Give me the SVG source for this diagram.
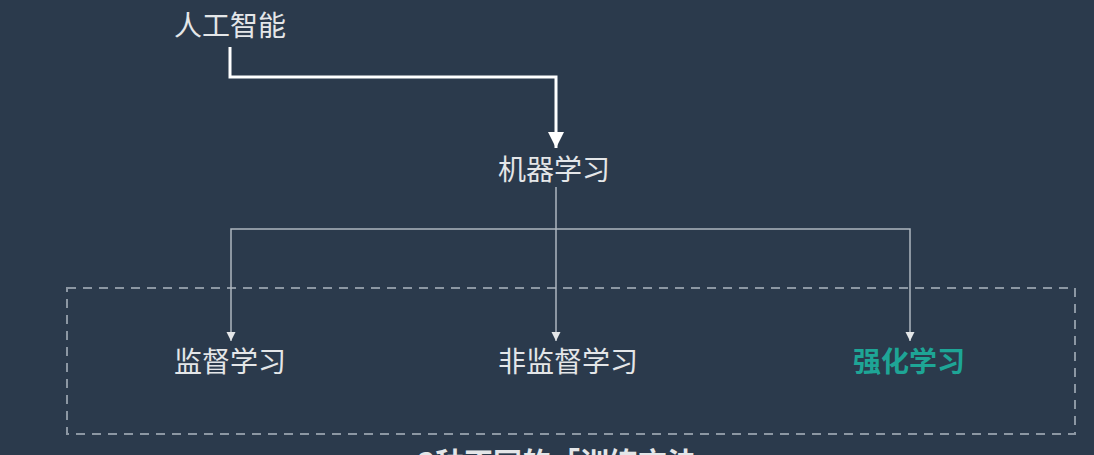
<svg xmlns="http://www.w3.org/2000/svg" width="1094" height="455" viewBox="0 0 1094 455">
<style>
.t{font-family:"Noto Sans CJK SC","Noto Sans",sans-serif;font-size:28px;fill:#e4e6e8}
.teal{fill:#1ea596}
.b{font-weight:bold}
.cap{font-size:29px}
.thin{fill:none;stroke:#aeb6bf;stroke-width:1.5}
.thick{fill:none;stroke:#ffffff;stroke-width:3}
</style>
<defs>
<marker id="big" markerUnits="userSpaceOnUse" markerWidth="18" markerHeight="16" refX="16" refY="8" orient="auto">
<path d="M0,0 L16,8 L0,16 Z" fill="#ffffff"/>
</marker>
<marker id="small" markerUnits="userSpaceOnUse" markerWidth="10" markerHeight="10" refX="9" refY="4.5" orient="auto">
<path d="M0,0 L9,4.5 L0,9 Z" fill="#e4e6e8"/>
</marker>
</defs>
<rect width="1094" height="455" fill="#2b3a4c"/>
<rect x="67" y="288" width="1008" height="146" fill="none" stroke="#8c97a3" stroke-width="2" stroke-dasharray="9 7"/>
<g id="connectors">
<path class="thick" d="M230,47 V77 H556 V148" marker-end="url(#big)"/>
<path class="thin" d="M556,187 V341" marker-end="url(#small)"/>
<path class="thin" d="M556,229 H231 V341" marker-end="url(#small)"/>
<path class="thin" d="M556,229 H910 V341" marker-end="url(#small)"/>
</g>
<g id="ai"><text class="t" x="174" y="36">人工智能</text></g>
<g id="ml"><text class="t" x="498" y="180">机器学习</text></g>
<g id="supervised"><text class="t" x="174" y="372">监督学习</text></g>
<g id="unsupervised"><text class="t" x="498" y="372">非监督学习</text></g>
<g id="rl"><text class="t teal b" x="853" y="372">强化学习</text></g>
<g id="caption"><text class="t b cap" x="418" y="474">3种不同的「训练方法</text></g>
</svg>
